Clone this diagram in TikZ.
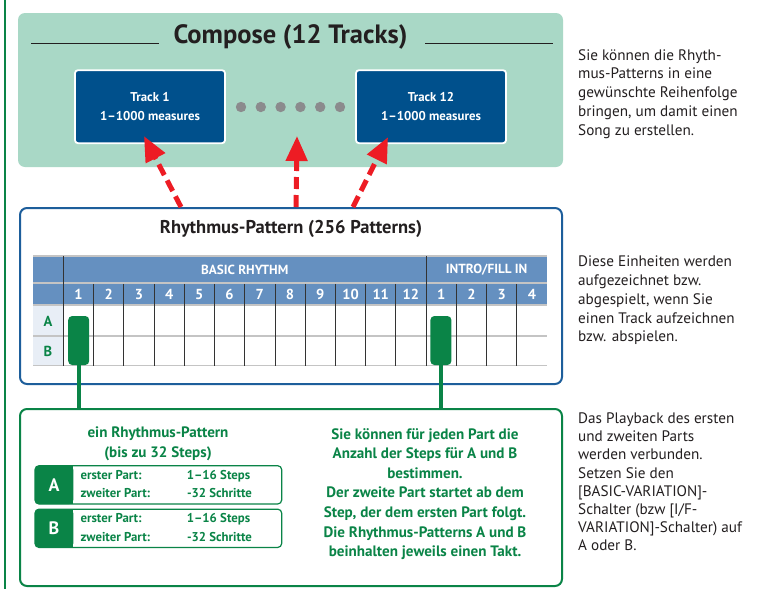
\documentclass[tikz,border=0pt]{standalone}
\usepackage{fontspec}
\setmainfont{PT Sans}
\usetikzlibrary{arrows.meta}

\definecolor{composegreen}{HTML}{A9D8C6}
\definecolor{trackblue}{HTML}{00508C}
\definecolor{frameblue}{HTML}{1D5E9B}
\definecolor{headblue}{HTML}{6590C0}
\definecolor{rowblue}{HTML}{E8EEF6}
\definecolor{partgreen}{HTML}{0A8447}
\definecolor{arrowred}{HTML}{ED1C24}
\definecolor{dotgray}{HTML}{8B8B8D}
\definecolor{titlegray}{HTML}{231F20}
\definecolor{gridgray}{HTML}{C4C4C4}

\begin{document}
\begin{tikzpicture}[x=1pt,y=-1pt]
  \tikzset{
    trackbox/.style={fill=trackblue, draw=white, line width=1.8pt, rounded corners=3pt,
      minimum width=150pt, minimum height=73pt, inner sep=0pt, text=white, align=center,
      font=\bfseries\fontsize{12.8}{19}\selectfont},
    dasharrow/.style={arrowred, line width=5pt, dash pattern=on 12pt off 6pt,
      -{Triangle[width=21pt,length=25pt]}},
    headtext/.style={text=white, font=\bfseries\fontsize{13.2}{15}\selectfont},
    numtext/.style={text=white, font=\bfseries\fontsize{14.5}{16}\selectfont},
    rowtext/.style={text=partgreen, font=\bfseries\fontsize{14.5}{16}\selectfont},
    pill/.style={fill=partgreen, rounded corners=4pt, minimum width=21pt,
      minimum height=49pt, inner sep=0pt},
    greenlink/.style={partgreen, line width=4pt},
    greentext/.style={text=partgreen, align=center,
      font=\bfseries\fontsize{15.1}{19.6}\selectfont},
    parttext/.style={text=partgreen, text height=9.5pt, text depth=2.8pt,
      font=\bfseries\fontsize{12.8}{14}\selectfont},
    notetext/.style={anchor=north west, inner sep=0pt, align=left, text=titlegray,
      font=\fontsize{15.2}{18.8}\selectfont},
  }
  \useasboundingbox[fill=white] (0,0) rectangle (757,589);
  \draw[partgreen, line width=1.5pt] (5,0) -- (5,589);

  % Compose
  \node[fill=composegreen, rounded corners=7pt, minimum width=545pt, minimum height=154pt] (compose) at (290.5,90) {};
  \node[text=titlegray, font=\bfseries\fontsize{26.5}{28}\selectfont] (composetitle) at (290.5,37) {Compose (12 Tracks)};
  \draw[titlegray, line width=1.5pt] (31,43.5) -- (159,43.5);
  \draw[titlegray, line width=1.5pt] (425,43.5) -- (553,43.5);
  \node[trackbox] (track1) at (150,106.7) {Track 1\\1–1000 measures};
  \node[trackbox] (track12) at (431,106.7) {Track 12\\1–1000 measures};
  \foreach \i in {0,...,5}
    \fill[dotgray] (241+\i*19.8,107) circle (5.2pt);

  % Rhythmus-Pattern
  \node[draw=frameblue, line width=2pt, rounded corners=7pt, minimum width=542pt, minimum height=176pt] (rhythm) at (291,296) {};
  \node[text=titlegray, font=\bfseries\fontsize{18.5}{20}\selectfont] (rhythmtitle) at (291,229) {Rhythmus-Pattern (256 Patterns)};
  \coordinate (tail1) at (181,207);
  \coordinate (tail2) at (296,207);
  \coordinate (tail3) at (353,207);
  \coordinate (head2) at (297,136);
  \draw[dasharrow] (tail1) -- ([xshift=-6pt,yshift=8pt]track1.south);
  \draw[dasharrow] (tail2) -- (head2);
  \draw[dasharrow] (tail3) -- ([xshift=-43pt,yshift=7pt]track12.south);

  % table
  \fill[headblue] (33,256) rectangle (547,305);
  \fill[rowblue] (33,305) rectangle (63.3,365.5);
  \draw[gridgray, line width=2pt] (33,282.8) -- (547,282.8);
  \draw[gridgray, line width=1.2pt] (33,256) -- (547,256);
  \foreach \yy in {305,336,365.5}
    \draw[gridgray, line width=1.5pt] (33,\yy) -- (547,\yy);
  \foreach \i in {1,...,15}
    \draw[black!80, line width=0.8pt] (63.3+\i*30.23,283.8) -- (63.3+\i*30.23,365.5);
  \draw[black!80, line width=0.8pt] (63.3,256) -- (63.3,365.5);
  \draw[black!80, line width=0.8pt] (426.1,256) -- (426.1,365.5);
  \node[headtext] (basic) at (244.7,269.5) {BASIC RHYTHM};
  \node[headtext] (intro) at (486.6,269.5) {INTRO/FILL IN};
  \foreach \n [count=\i] in {1,2,3,4,5,6,7,8,9,10,11,12,1,2,3,4}
    \node[numtext] (col\i) at (63.3+\i*30.23-15.1,294.5) {\n};
  \node[rowtext] (rowA) at (48,321) {A};
  \node[rowtext] (rowB) at (48,351) {B};
  \node[pill] (pill1) at (78.7,340.5) {};
  \node[pill] (pill13) at (440.9,340.5) {};

  % parts
  \node[draw=partgreen, line width=2pt, rounded corners=7pt, minimum width=542pt, minimum height=177pt] (parts) at (291,497.5) {};
  \draw[greenlink] (pill1.south) -- (pill1.south |- parts.north);
  \draw[greenlink] (pill13.south) -- (pill13.south |- parts.north);
  \node[greentext] (patterninfo) at (158,444) {ein Rhythmus-Pattern\\(bis zu 32 Steps)};
  \node[greentext] (stepinfo) at (425,494) {Sie können für jeden Part die\\Anzahl der Steps für A und B\\bestimmen.\\Der zweite Part startet ab dem\\Step, der dem ersten Part folgt.\\Die Rhythmus-Patterns A und B\\beinhalten jeweils einen Takt.};
  \foreach \p/\yy in {A/484.85,B/528.3} {
    \fill[partgreen, rounded corners=4pt] (35,\yy-19.15) rectangle (73.3,\yy+19.15);
    \fill[partgreen] (60,\yy-19.15) rectangle (73.3,\yy+19.15);
    \node[draw=partgreen, line width=1.2pt, rounded corners=4pt, minimum width=246.7pt, minimum height=38.3pt] (part\p) at (158.35,\yy) {};
    \node[text=white, font=\bfseries\fontsize{18}{20}\selectfont] (label\p) at (54,\yy) {\p};
    \node[parttext, anchor=west] (first\p) at (77,\yy-9.2) {erster Part:};
    \node[parttext, anchor=west] (second\p) at (77,\yy+9.4) {zweiter Part:};
    \node[parttext] (firstval\p) at (218.5,\yy-9.2) {1–16 Steps};
    \node[parttext] (secondval\p) at (219.5,\yy+9.4) {-32 Schritte};
  }

  % notes
  \node[notetext] (note1) at (578,49) {Sie können die Rhyth-\\mus-Patterns in eine\\gewünschte Reihenfolge\\bringen, um damit einen\\Song zu erstellen.};
  \node[notetext] (note2) at (578,255.7) {Diese Einheiten werden\\aufgezeichnet bzw.\\abgespielt, wenn Sie\\einen Track aufzeichnen\\bzw. abspielen.};
  \node[notetext, font=\fontsize{15.2}{18.2}\selectfont] (note3) at (578,412.5) {Das Playback des ersten\\und zweiten Parts\\werden verbunden.\\Setzen Sie den\\{[}BASIC-VARIATION{]}-\\Schalter (bzw [I/F-\\VARIATION]-Schalter) auf\\A oder B.};
\end{tikzpicture}
\end{document}
